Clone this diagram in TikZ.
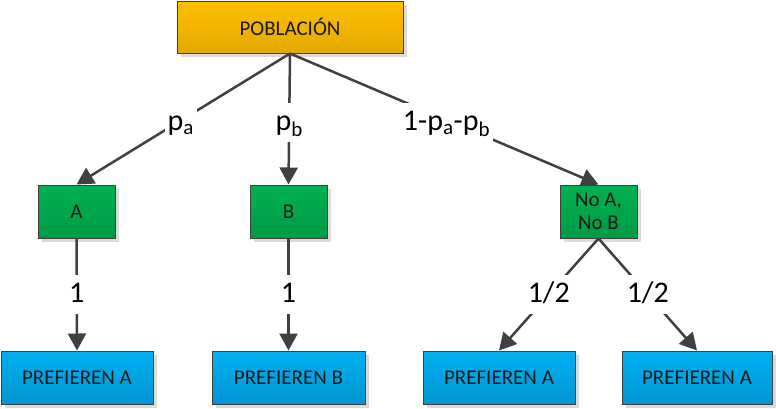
\documentclass[tikz,border=0pt]{standalone}
\usepackage{fontspec}
\setmainfont{Carlito}
\usetikzlibrary{arrows.meta,shadows}
\definecolor{edgec}{HTML}{404040}
\definecolor{goldtop}{HTML}{FFC000}
\definecolor{goldbot}{HTML}{E3A800}
\definecolor{greentop}{HTML}{00B050}
\definecolor{greenbot}{HTML}{009A45}
\definecolor{bluetop}{HTML}{00B0F0}
\definecolor{bluebot}{HTML}{0096D2}
\tikzset{
  box/.style={draw=edgec, line width=1pt, minimum height=53pt, inner sep=2pt,
    font=\fontsize{21}{25}\selectfont, text=black!90, align=center,
    drop shadow={shadow xshift=4pt, shadow yshift=-4pt, fill=black!14, opacity=1}},
  goldbox/.style={box, top color=goldtop, bottom color=goldbot},
  greenbox/.style={box, top color=greentop, bottom color=greenbot, minimum width=77pt},
  bluebox/.style={box, top color=bluetop, bottom color=bluebot, minimum width=152pt},
  conn/.style={draw=edgec, line width=2.5pt, -{Triangle[length=17pt,width=18pt]}},
  lbl/.style={fill=white, inner xsep=3pt, inner ysep=5pt, text height=22pt, text depth=7pt,
    font=\fontsize{30}{32}\selectfont, text=black}
}
\begin{document}
\begin{tikzpicture}[x=1pt,y=-1pt]
\useasboundingbox (0,0) rectangle (776,408);
\node[goldbox, minimum width=226pt, minimum height=52pt] (pob) at (290,27) {POBLACIÓN};
\node[greenbox] (a) at (76.5,211.5) {A};
\node[greenbox] (b) at (288.5,211.5) {B};
\node[greenbox] (nab) at (598.5,211.5) {No A,\\[-2pt]No B};
\node[bluebox] (pa1) at (77,377.5) {PREFIEREN A};
\node[bluebox, minimum width=153pt] (pb) at (288.5,377.5) {PREFIEREN B};
\node[bluebox] (pa2) at (499,377.5) {PREFIEREN A};
\node[bluebox, minimum width=150pt] (pa3) at (697,377.5) {PREFIEREN A};

\draw[conn] (pob.south) -- node[lbl, pos=0.53, xshift=4pt] {p\textsubscript{a}} (a.north);
\draw[conn] (pob.south) -- node[lbl, pos=0.53] {p\textsubscript{b}} (b.north);
\draw[conn] (pob.south) -- node[lbl, pos=0.53, xshift=-7pt] {1-p\textsubscript{a}-p\textsubscript{b}} (nab.north);
\draw[conn] (a.south) -- node[lbl] {1} (pa1.north);
\draw[conn] (b.south) -- node[lbl] {1} (pb.north);
\draw[conn] (nab.south) -- node[lbl] {1/2} (pa2.north);
\draw[conn] (nab.south) -- node[lbl] {1/2} (pa3.north);
\end{tikzpicture}
\end{document}
